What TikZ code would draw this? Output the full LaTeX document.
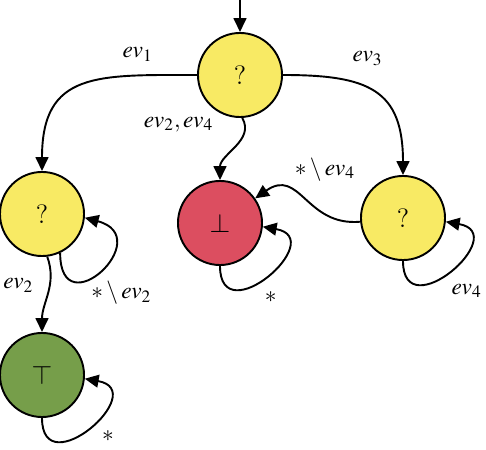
\documentclass[tikz,border=0pt]{standalone}
\usepackage{mathptmx}
\usetikzlibrary{arrows.meta,positioning}

\definecolor{qyellow}{RGB}{248,234,100}
\definecolor{qred}{RGB}{220,78,96}
\definecolor{qgreen}{RGB}{118,158,74}

\tikzset{
  loc/.style={circle, draw, line width=0.9pt, minimum size=39.5pt, inner sep=0pt, font=\fontsize{12.5}{15}\selectfont},
  trans/.style={-{Triangle[length=6.5pt,width=6pt]}, line width=0.9pt},
}

\begin{document}
\begin{tikzpicture}[x=0.47pt, y=0.47pt, font=\fontsize{11}{13}\selectfont]
\useasboundingbox (0,0) rectangle (486,450);

% Zustaende
\node[loc, fill=qyellow] (q0)  at (240,375) {?};
\node[loc, fill=qyellow] (q1)  at (42,236)  {?};
\node[loc, fill=qyellow] (q2)  at (403,232) {?};
\node[loc, fill=qred]    (bot) at (220,227) {$\bot$};
\node[loc, fill=qgreen]  (top) at (42,75)   {$\top$};

% Start
\coordinate (init) at (240,450);
\draw[trans] (init) -- (q0);

% Uebergaenge
\draw[trans] (q0) to[out=180, in=90, looseness=1.4] node[pos=0.22, above=3pt] {$ev_1$} (q1);
\draw[trans] (q0) to[out=0, in=90, looseness=1.4] node[pos=0.44, above=7pt] {$ev_3$} (q2);
\draw[trans] (q0.-87) to[out=-60, in=90] node[pos=0.1, left=11pt] {$ev_2, ev_4$} (bot);
\draw[trans] (q2) to[out=185, in=35, looseness=1.3] node[pos=0.27, above=12pt] {$*\setminus ev_4$} (bot);
\draw[trans] (q1.-83) to[out=-70, in=90] node[pos=0.38, left=4pt] {$ev_2$} (top);

% Schleifen
\draw[trans] (q1.-65) to[out=-90, in=-15, looseness=4.5] node[pos=0.45, below right=-1pt and -5.5pt] {$*\setminus ev_2$} (q1.-5);
\draw[trans] (bot.-90) to[out=-90, in=-10, looseness=3] node[pos=0.42, below right] {$*$} (bot.-5);
\draw[trans] (q2.-90) to[out=-90, in=-10, looseness=3] node[pos=0.45, below right] {$ev_4$} (q2.-5);
\draw[trans] (top.-90) to[out=-90, in=-10, looseness=3] node[pos=0.55, below right] {$*$} (top.-5);

\end{tikzpicture}
\end{document}
